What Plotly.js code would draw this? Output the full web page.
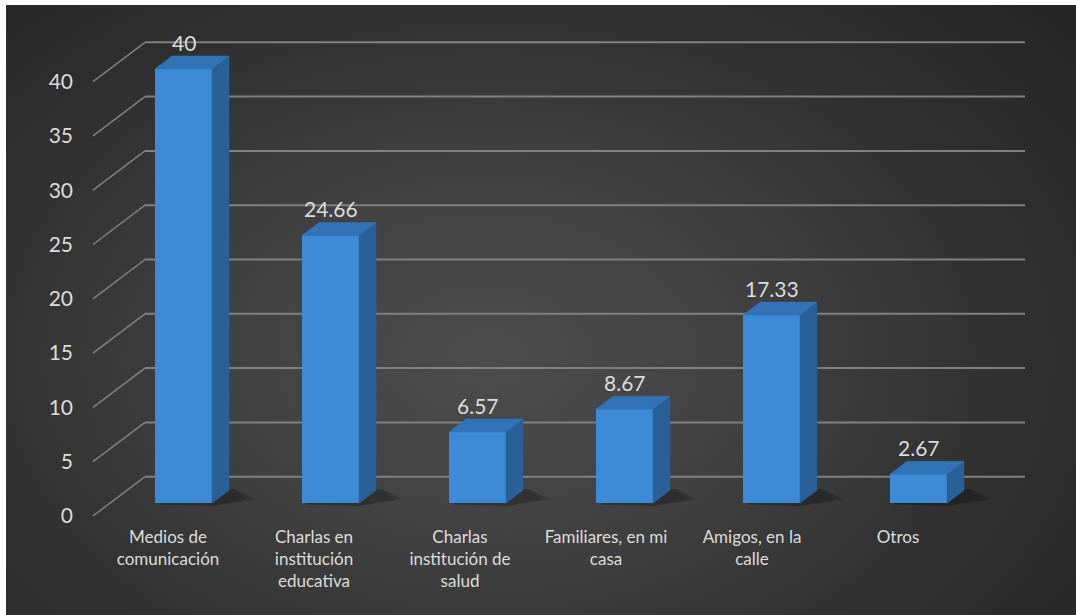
<!DOCTYPE html>
<html><head><meta charset="utf-8">
<script src="https://cdn.plot.ly/plotly-3.0.1.min.js"></script>
<style>
html,body{margin:0;padding:0;background:#fff;}
#wrap{position:relative;width:1076px;height:615px;background:#fff;overflow:hidden;}
#bg{position:absolute;left:6px;top:5px;width:1070px;height:610px;
  background:radial-gradient(ellipse 70% 85% at 45% 58%, #4c4c4c 0%, #414141 35%, #303030 70%, #262626 100%);}
#chart{position:absolute;left:0;top:0;width:1076px;height:615px;}
</style></head><body>
<div id="wrap"><div id="bg"></div><div id="chart"></div></div>
<script>
// ---- data ----
const categories = ["Medios de<br>comunicación","Charlas en<br>institución<br>educativa","Charlas<br>institución de<br>salud","Familiares, en mi<br>casa","Amigos, en la<br>calle","Otros"];
const values = [40, 24.66, 6.57, 8.67, 17.33, 2.67];
const valueLabels = ["40","24.66","6.57","8.67","17.33","2.67"];
const yTicks = [0,5,10,15,20,25,30,35,40];
const yTickText = ["0","5","10","15","20","25","30","35","40"];

// ---- layout geometry (pixels) ----
const W=1076, H=615, mL=6, mR=0, mT=5, mB=90;
const plotBottom = H - mB, plotTop = mT;
const pxPerCat = 147, cat0 = 183.5;        // bar centres
const pxPerUnit = 10.86, barBase = 503.3;  // bar front face base
const backBase = 476.7, frontBase = 516;   // back wall / front edge base
const labPerCat = 146, lab0 = 168;         // category labels
const px2x = p => (p - cat0) / pxPerCat;
const backOff = (barBase - backBase) / pxPerUnit;
const frontOff = (barBase - frontBase) / pxPerUnit;
const xBack0 = px2x(145), xBack1 = px2x(1025), xFront = px2x(93);
const hw = 57 / pxPerCat / 2;
const dxu = 17 / pxPerCat, dyu = 13 / pxPerUnit;

const idx = categories.map((c,i)=>i);
const textColor = '#dcdcdc';
const font = 'Lato, "Open Sans", sans-serif';

// gridlines & diagonals as shapes beneath bars
const shapes = [];
yTicks.forEach(t=>{
  shapes.push({type:'line', layer:'below', xref:'x', yref:'y', x0:xBack0, x1:xBack1, y0:t+backOff, y1:t+backOff,
    line:{color:'#808080', width:2}});
  shapes.push({type:'line', layer:'below', xref:'x', yref:'y', x0:xFront, x1:xBack0, y0:t+frontOff, y1:t+backOff,
    line:{color:'#808080', width:1.5}});
});
// soft shadows at bar bases
idx.forEach(i=>{
  const xl=i-hw, xr=i+hw;
  [[0.16,0.1],[0.12,0.04]].forEach(([op,ext])=>{
    shapes.push({type:'path', layer:'below', xref:'x', yref:'y',
      path:`M${xl+0.03},${-0.1} L${xr},${-0.25} L${xr+dxu+ext+0.08},${dyu*0.3} L${xr+dxu+0.04},${dyu*1.1} L${xl+dxu},${dyu} Z`,
      fillcolor:`rgba(0,0,0,${op})`, line:{width:0}});
  });
});

// side and top faces
const sideX=[], sideY=[], topX=[], topY=[];
idx.forEach(i=>{
  const v=values[i], xl=i-hw, xr=i+hw;
  sideX.push(xr, xr+dxu, xr+dxu, xr, xr, null);
  sideY.push(0, dyu, v+dyu, v, 0, null);
  topX.push(xl, xl+dxu, xr+dxu, xr, xl, null);
  topY.push(v, v+dyu, v+dyu, v, v, null);
});

const traces = [
  {type:'bar', x:idx, y:values, width:2*hw, marker:{color:'#3d8bd6', line:{width:0}}, hoverinfo:'skip', showlegend:false},
  {type:'scatter', x:sideX, y:sideY, mode:'lines', fill:'toself', fillcolor:'#2a6098', line:{width:0.5,color:'#2a6098'}, hoverinfo:'skip', showlegend:false},
  {type:'scatter', x:topX, y:topY, mode:'lines', fill:'toself', fillcolor:'#3173b6', line:{width:0.5,color:'#3173b6'}, hoverinfo:'skip', showlegend:false},
  {type:'scatter', x:idx, y:values, xaxis:'x2', yaxis:'y2', mode:'markers', marker:{opacity:0}, hoverinfo:'skip', showlegend:false}
];

const annotations = idx.map(i=>({x:i, y:values[i], xref:'x', yref:'y', text:valueLabels[i], showarrow:false,
  yshift:26.5, xanchor:'center', yanchor:'middle', font:{family:font, size:21, color:textColor}}));

const layout = {
  width:W, height:H, margin:{l:mL, r:mR, t:mT, b:mB, pad:0},
  paper_bgcolor:'rgba(0,0,0,0)', plot_bgcolor:'rgba(0,0,0,0)',
  showlegend:false, bargap:0,
  xaxis:{range:[px2x(mL), px2x(W-mR)], showgrid:false, zeroline:false, showline:false, showticklabels:false, ticks:'', fixedrange:true},
  yaxis:{range:[(barBase-plotBottom)/pxPerUnit, (barBase-plotTop)/pxPerUnit], showgrid:false, zeroline:false, showline:false, showticklabels:false, ticks:'', fixedrange:true},
  xaxis2:{overlaying:'x', anchor:'y', side:'bottom',
    range:[(mL-lab0)/labPerCat, (W-mR-lab0)/labPerCat],
    tickmode:'array', tickvals:idx, ticktext:categories, showgrid:false, zeroline:false, showline:false, ticks:'',
    tickfont:{family:font, size:17, color:textColor}, fixedrange:true},
  yaxis2:{overlaying:'y', anchor:'free', position:(73-mL)/(W-mL-mR), side:'left',
    range:[(frontBase-plotBottom)/pxPerUnit, (frontBase-plotTop)/pxPerUnit],
    tickmode:'array', tickvals:yTicks, ticktext:yTickText, showgrid:false, zeroline:false, showline:false, ticks:'',
    tickfont:{family:font, size:21, color:textColor}, fixedrange:true},
  shapes:shapes, annotations:annotations
};
Plotly.newPlot('chart', traces, layout, {displayModeBar:false, staticPlot:true});
</script>
</body></html>
